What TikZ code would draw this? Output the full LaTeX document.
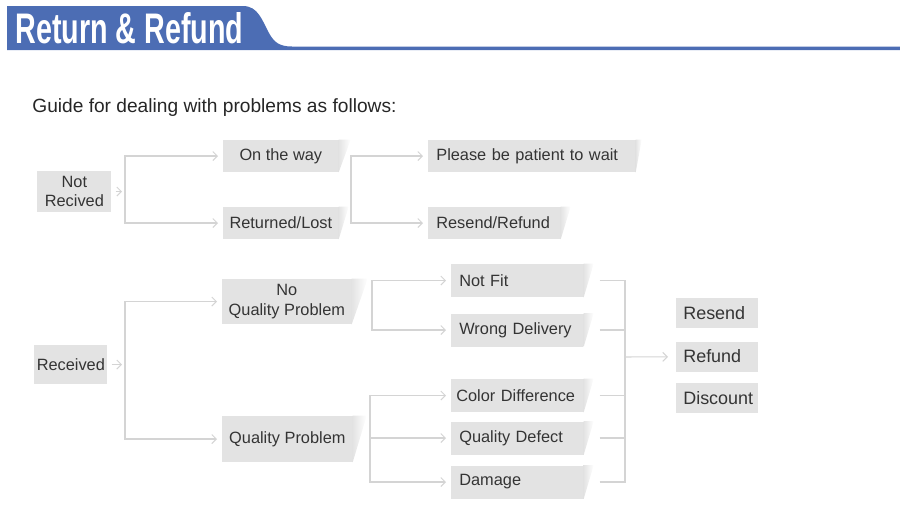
\documentclass[tikz,border=0pt]{standalone}
\usepackage{graphicx}
\usepackage{fontspec}
\setmainfont{Liberation Sans}
\usetikzlibrary{arrows.meta}
\definecolor{hdrblue}{RGB}{76,109,180}
\definecolor{boxgray}{RGB}{227,227,227}
\definecolor{txtgray}{RGB}{52,52,52}
\definecolor{linegray}{RGB}{212,212,212}
\newcommand{\boxfont}{\fontsize{9.3}{11.3}\selectfont}
\newcommand{\remedyfont}{\fontsize{10.2}{12}\selectfont}
\tikzset{
	box/.style = {fill = boxgray, text = txtgray, font = \boxfont, inner sep = 0pt, anchor = west, minimum height = 6.4mm},
	lbox/.style = {box, align = left, inner xsep = 1.6mm, text width = #1},
	link/.style = {draw = linegray, line width = 0.6pt, -{Straight Barb[length = 0.9mm, width = 1.8mm]}, shorten >= 1mm},
	stub/.style = {link, shorten <= 0.8mm, shorten >= 0.6mm},
	branch/.style = {draw = linegray, line width = 0.6pt, shorten <= 3.2mm},
	tailshade/.style = {left color = boxgray, right color = white}
}

\begin{document}
\begin{tikzpicture}[x = 0.2mm, y = -0.2mm]
	\useasboundingbox (0,0) rectangle (900,530);

	\fill [hdrblue] (7,6) -- (243,6) .. controls (258,6) and (262,20) .. (269,33)
		.. controls (274,42) and (279,46.5) .. (292,46.5) -- (900,46.5) -- (900,50) -- (7,50) -- cycle;
	\node (title)[anchor = base west, text = white, inner sep = 0pt] at (15,43) {
		\resizebox{45.6mm}{6.2mm}{\bfseries Return \& Refund}};

	\node (guide)[anchor = base west, inner sep = 0pt, text = black!85, font = \fontsize{10.9}{12}\selectfont] at (32,112) {
		Guide for dealing with problems as follows:};

	\node (nr)[box, align = center, minimum width = 14.8mm, minimum height = 8.2mm] at (37,191.5) {Not\\Recived};
	\node (onway)[box, minimum width = 23mm] at (223,156) {On the way};
	\node (lost)[box, minimum width = 23mm] at (223,223) {Returned/Lost};
	\node (wait)[lbox = 38.2mm] at (428,156) {Please be patient to wait};
	\node (resref)[lbox = 23.2mm] at (428,223) {Resend/Refund};

	\node (rec)[box, minimum width = 14.6mm, minimum height = 7.8mm] at (34,364.5) {Received};
	\node (noqp)[box, align = center, minimum width = 25.8mm, minimum height = 9mm] at (222,301.5) {No\\Quality Problem};
	\node (qp)[box, minimum width = 26mm, minimum height = 9.2mm] at (222,439) {Quality Problem};

	\node (notfit)[lbox = 23.2mm, minimum height = 6.6mm] at (451,280.5) {Not Fit};
	\node (wrong)[lbox = 23.2mm, minimum height = 6.6mm] at (451,330) {Wrong Delivery};
	\node (color)[lbox = 23.2mm, minimum height = 6.6mm, inner xsep = 1mm, text width = 24.4mm] at (451,395.5) {Color Difference};
	\node (defect)[lbox = 23.2mm, minimum height = 6.6mm] at (451,438) {Quality Defect};
	\node (damage)[lbox = 23.2mm, minimum height = 6.6mm] at (451,482) {Damage};

	\node (resend)[lbox = 13.6mm, inner xsep = 1.4mm, font = \remedyfont, minimum height = 6mm] at (676,313) {Resend};
	\node (refund)[lbox = 13.6mm, inner xsep = 1.4mm, font = \remedyfont, minimum height = 6mm] at (676,356.5) {Refund};
	\node (discount)[lbox = 13.6mm, inner xsep = 1.4mm, font = \remedyfont, minimum height = 6mm] at (676,398) {Discount};

	\foreach \n/\w in {onway/12, lost/10, wait/6, resref/10, noqp/16, qp/14, notfit/10, wrong/10, color/10, defect/10, damage/10}
		\shade [tailshade] (\n.north east) -- ++(\w,0) -- (\n.south east) -- cycle;

	\coordinate (b1) at (125,191.5);
	\coordinate (b2) at (351,189.5);
	\coordinate (b3) at (125,364.5);
	\coordinate (b4) at (372,305);
	\coordinate (b5) at (370,438);
	\coordinate (join) at (625,357);

	\draw [stub](nr)--(b1);
	\draw [link](b1)|-(onway);
	\draw [link](b1)|-(lost);
	\draw [link](b2)|-(wait);
	\draw [link](b2)|-(resref);

	\draw [stub](rec)--(b3);
	\draw [link](b3)|-(noqp);
	\draw [link](b3)|-(qp);
	\draw [link](b4)|-(notfit);
	\draw [link](b4)|-(wrong);
	\draw [link](b5)|-(color);
	\draw [link](b5)--(defect);
	\draw [link](b5)|-(damage);

	\foreach \n in {notfit, wrong, color, defect, damage}
		\draw [branch](\n.east) -| (join);
	\draw [link, shorten >= 1.6mm](join)--(refund);
\end{tikzpicture}
\end{document}
